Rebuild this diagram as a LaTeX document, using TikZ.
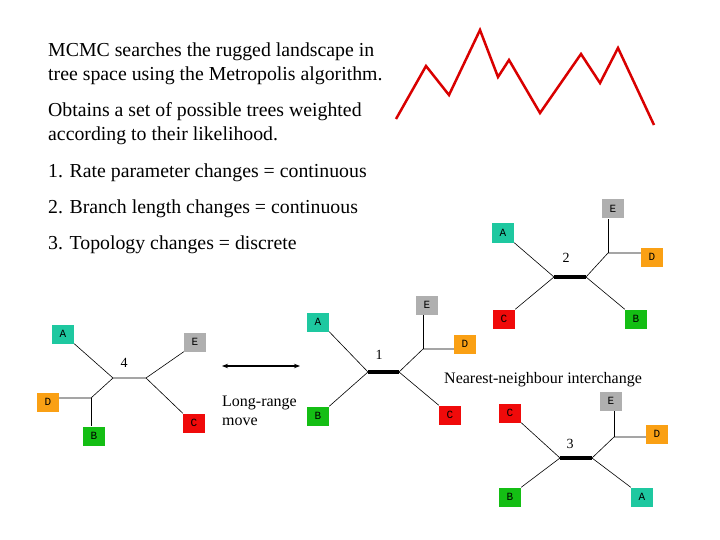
\documentclass[tikz,border=0pt]{standalone}
\usepackage{fontspec}
\usetikzlibrary{arrows.meta}
\setmainfont{Liberation Serif}
\setmonofont{Liberation Mono}
\definecolor{cA}{RGB}{30,200,160}
\definecolor{cB}{RGB}{20,190,20}
\definecolor{cC}{RGB}{240,10,10}
\definecolor{cD}{RGB}{250,160,20}
\definecolor{cE}{RGB}{175,175,175}
\begin{document}
\begin{tikzpicture}[x=1pt,y=-1pt,
 leaf/.style={minimum width=22pt,minimum height=19pt,inner sep=0pt,font=\ttfamily\fontsize{11}{11}\selectfont},
 txt/.style={anchor=west,align=left,font=\fontsize{19.8}{24}\selectfont,inner sep=0pt},
 br/.style={line width=0.6pt},
 thick bar/.style={line width=4pt},
 lab/.style={font=\fontsize{14}{14}\selectfont}]
\useasboundingbox (0,0) rectangle (720,540);
\fill[white] (0,0) rectangle (720,540);
% text
\node[txt] (t1) at (48,64) {MCMC searches the rugged landscape in\\tree space using the Metropolis algorithm.};
\node[txt] (t2) at (48,124) {Obtains a set of possible trees weighted\\according to their likelihood.};
\node[txt] (t3) at (48,173) {1. Rate parameter changes = continuous};
\node[txt] (t4) at (48,209) {2. Branch length changes = continuous};
\node[txt] (t5) at (48,245) {3. Topology changes = discrete};
% red landscape
\draw[red!85!black,line width=2.5pt,line join=miter] (396,119) -- (426,66) -- (449,95) -- (480,30) -- (498,77) -- (509,60) -- (540,113) -- (581,54) -- (600,83) -- (618,48) -- (654,125);
% tree 4
\node[leaf,fill=cA] (a4) at (63,334) {A};
\node[leaf,fill=cE] (e4) at (195,342) {E};
\node[leaf,fill=cD] (d4) at (48,402) {D};
\node[leaf,fill=cB] (b4) at (94,436) {B};
\node[leaf,fill=cC] (c4) at (194,423) {C};
\coordinate (l4) at (113,378); \coordinate (r4) at (146,378); \coordinate (j4) at (91,398);
\draw[br] (a4.south east) -- (l4) -- (r4) -- (e4.south west);
\draw[br] (r4) -- (c4.north west);
\draw[br] (l4) -- (j4) -- (d4.east|-j4);
\draw[br] (j4) -- (b4.north-|j4);
\node[lab] (n4) at (124,363) {4};
% arrow
\coordinate (ar1) at (222,366); \coordinate (ar2) at (300,366);
\draw[line width=1.8pt,{Stealth[length=6pt]}-{Stealth[length=6pt]}] (ar1) -- (ar2);
\node[anchor=north west,align=left,inner sep=0pt,font=\fontsize{16}{19}\selectfont] (lrm) at (222,396) {Long-range\\move};
% tree 1
\node[leaf,fill=cA] (a1) at (318,322) {A};
\node[leaf,fill=cE] (e1) at (427,305) {E};
\node[leaf,fill=cD] (d1) at (465,344) {D};
\node[leaf,fill=cB] (b1) at (318,416) {B};
\node[leaf,fill=cC] (c1) at (450,415) {C};
\coordinate (l1) at (368,372); \coordinate (r1) at (399,372); \coordinate (j1) at (423,349);
\draw[thick bar] (l1) -- (r1);
\draw[br] (a1.south east) -- (l1) -- (b1.north east);
\draw[br] (c1.north west) -- (r1) -- (j1) -- (d1.west|-j1);
\draw[br] (j1) -- (e1.south-|j1);
\node[lab] (n1) at (379,355) {1};
\node[anchor=west,inner sep=0pt,font=\fontsize{16}{16}\selectfont] (nni) at (444,380) {Nearest-neighbour interchange};
% tree 2
\node[leaf,fill=cA] (a2) at (503,233) {A};
\node[leaf,fill=cE] (e2) at (613,209) {E};
\node[leaf,fill=cD] (d2) at (652,257) {D};
\node[leaf,fill=cC] (c2) at (504,319) {C};
\node[leaf,fill=cB] (b2) at (636,319) {B};
\coordinate (l2) at (554,277); \coordinate (r2) at (586,277); \coordinate (j2) at (608,253);
\draw[thick bar] (l2) -- (r2);
\draw[br] (a2.south east) -- (l2) -- (c2.north east);
\draw[br] (b2.north west) -- (r2) -- (j2) -- (d2.west|-j2);
\draw[br] (j2) -- (e2.south-|j2);
\node[lab] (n2) at (566,258) {2};
% tree 3
\node[leaf,fill=cC] (c3) at (510,413) {C};
\node[leaf,fill=cE] (e3) at (611,401) {E};
\node[leaf,fill=cD] (d3) at (657,434) {D};
\node[leaf,fill=cB] (b3) at (510,497) {B};
\node[leaf,fill=cA] (a3) at (642,497) {A};
\coordinate (l3) at (560,458); \coordinate (r3) at (592,458); \coordinate (j3) at (614,437);
\draw[thick bar] (l3) -- (r3);
\draw[br] (c3.south east) -- (l3) -- (b3.north east);
\draw[br] (a3.north west) -- (r3) -- (j3) -- (d3.west|-j3);
\draw[br] (j3) -- (e3.south-|j3);
\node[lab] (n3) at (570,444) {3};
\end{tikzpicture}
\end{document}
